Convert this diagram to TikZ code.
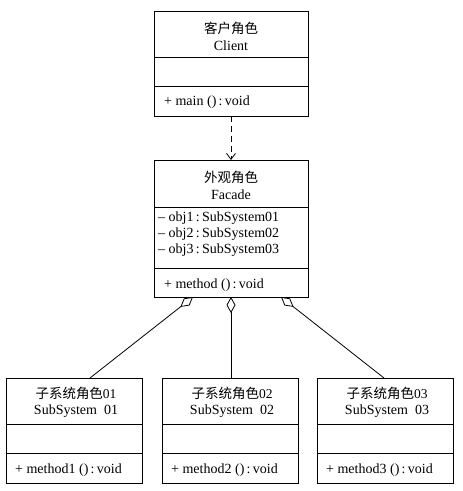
\documentclass[tikz,border=0pt]{standalone}
\usepackage{fontspec}
\setmainfont{Liberation Serif}
\newfontfamily\cjk{Noto Sans CJK SC}
\usetikzlibrary{arrows.meta,calc}
\begin{document}
\begin{tikzpicture}[x=1pt,y=1pt,
  cls/.style={draw,line width=0.9pt,minimum width=#1,inner sep=0pt,outer sep=0pt},
  txt/.style={font=\fontsize{14}{16}\selectfont,inner sep=0pt,anchor=base},
  ltxt/.style={font=\fontsize{14}{16}\selectfont,inner sep=0pt,anchor=base west},
  sep/.style={line width=0.9pt},
  agg/.style={line width=0.8pt,{Diamond[open,length=16pt,width=9pt,line width=0.8pt]}-}]
\useasboundingbox (0,0) rectangle (463,-491);
% Client
\node[cls=154pt,minimum height=105pt,anchor=north west] (client) at (154,-11) {};
\draw[sep] (154,-57) -- (308,-57);
\draw[sep] (154,-86) -- (308,-86);
\node[txt] (c1) at (231,-33) {\cjk\fontsize{13.5}{16}\selectfont 客户角色};
\node[txt] (c2) at (231,-50) {Client};
\node[ltxt] (c3) at (164,-105) {+ main ()\,:\,void};
% Facade
\node[cls=154pt,minimum height=137pt,anchor=north west] (facade) at (154,-160) {};
\draw[sep] (154,-207) -- (308,-207);
\draw[sep] (154,-268) -- (308,-268);
\node[txt] (f1) at (231,-182) {\cjk\fontsize{13.5}{16}\selectfont 外观角色};
\node[txt] (f2) at (231,-199) {Facade};
\node[ltxt] (f3) at (158,-221) {\textendash\ obj1\,:\,SubSystem01};
\node[ltxt] (f4) at (158,-237) {\textendash\ obj2\,:\,SubSystem02};
\node[ltxt] (f5) at (158,-253) {\textendash\ obj3\,:\,SubSystem03};
\node[ltxt] (f6) at (164,-288) {+ method ()\,:\,void};
% Subsystems
\foreach \i/\x in {1/6,2/162,3/317}{
  \node[cls=136pt,minimum height=105pt,anchor=north west] (sub\i) at (\x,-378) {};
  \draw[sep] (\x,-424) -- ($(\x,-424)+(136,0)$);
  \draw[sep] (\x,-453) -- ($(\x,-453)+(136,0)$);
  \node[txt] (s\i a) at ($(\x,-398)+(70,0)$) {\cjk\fontsize{13.5}{16}\selectfont 子系统角色\fontspec{Liberation Serif}0\i};
  \node[txt] (s\i b) at ($(\x,-414)+(70,0)$) {SubSystem\ \ 0\i};
  \node[ltxt] (s\i c) at ($(\x,-473)+(9,0)$) {+ method\i\ ()\,:\,void};
}
% connectors
\draw[line width=0.8pt,dashed,dash pattern=on 6pt off 4pt,-{Straight Barb[length=6pt,width=9pt]}] (client.south) -- (facade.north);
\coordinate (aL) at ($(facade.south)+(-38,0)$);
\coordinate (aR) at ($(facade.south)+(50,0)$);
\coordinate (bL) at ($(sub1.north)+(16,0)$);
\coordinate (bR) at ($(sub3.north)+(-1,0)$);
\draw[agg] (aL) -- (bL);
\draw[agg] (facade.south |- facade.south) -- (facade.south |- sub2.north);
\draw[agg] (aR) -- (bR);
\end{tikzpicture}
\end{document}
